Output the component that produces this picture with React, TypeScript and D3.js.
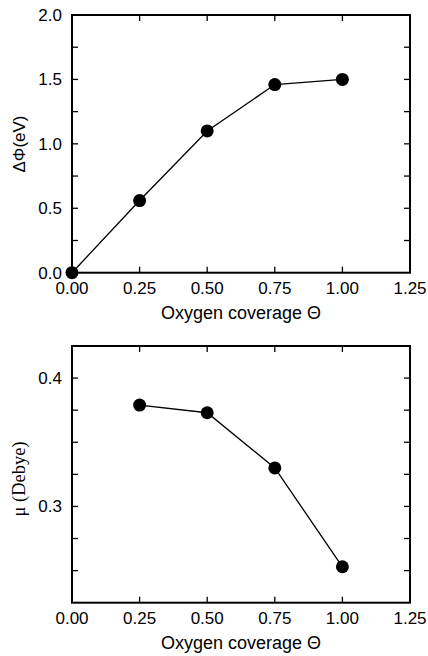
import React from "react";
import * as d3 from "d3";

const coverage = [0, 0.25, 0.5, 0.75, 1.0];
const deltaPhi = [0.0, 0.56, 1.1, 1.46, 1.5];
const muCoverage = [0.25, 0.5, 0.75, 1.0];
const muDebye = [0.379, 0.373, 0.33, 0.253];
const xTickLabels = ["0.00", "0.25", "0.50", "0.75", "1.00", "1.25"];
const xTickValues = [0, 0.25, 0.5, 0.75, 1.0, 1.25];
const topYLabels = ["0.0", "0.5", "1.0", "1.5", "2.0"];
const topYValues = [0, 0.5, 1.0, 1.5, 2.0];
const topYMinor = [0.25, 0.75, 1.25, 1.75];
const botYLabels = ["0.3", "0.4"];
const botYValues = [0.3, 0.4];
const botYMinor = [0.25, 0.275, 0.325, 0.35, 0.375];
const xTitle = "Oxygen coverage \u0398";

const L = 72;
const R = 410;
const sans = "'Liberation Sans', Arial, Helvetica, sans-serif";
const serif = "'Liberation Serif', 'Times New Roman', serif";

type PanelProps = {
  top: number;
  bottom: number;
  domain: [number, number];
  yMajor: number[];
  yLabels: string[];
  yMinor: number[];
  xs: number[];
  ys: number[];
  yTitle: string;
  yTitleFont: string;
  yTitleSize: number;
  yTitleY: number;
};

function Panel(p: PanelProps) {
  const x = d3.scaleLinear().domain([0, 1.25]).range([L, R]);
  const y = d3.scaleLinear().domain(p.domain).range([p.bottom, p.top]);
  const line = d3
    .line<number>()
    .x((_, i) => x(p.xs[i]))
    .y((d) => y(d));
  const tl = 6;
  const innerX = xTickValues.filter((v) => v > 0 && v < 1.25);
  const allY = [...p.yMajor, ...p.yMinor].filter(
    (v) => v > p.domain[0] && v < p.domain[1]
  );
  return (
    <g>
      {innerX.map((v) => (
        <g key={"xt" + v}>
          <line x1={x(v)} x2={x(v)} y1={p.bottom} y2={p.bottom - tl} stroke="#000" strokeWidth={1.3} />
          <line x1={x(v)} x2={x(v)} y1={p.top} y2={p.top + tl} stroke="#000" strokeWidth={1.3} />
        </g>
      ))}
      {allY.map((v) => (
        <g key={"yt" + v}>
          <line x1={L} x2={L + tl} y1={y(v)} y2={y(v)} stroke="#000" strokeWidth={1.3} />
          <line x1={R} x2={R - tl} y1={y(v)} y2={y(v)} stroke="#000" strokeWidth={1.3} />
        </g>
      ))}
      <rect x={L} y={p.top} width={R - L} height={p.bottom - p.top} fill="none" stroke="#000" strokeWidth={2} />
      <path d={line(p.ys) || ""} fill="none" stroke="#000" strokeWidth={1.3} />
      {p.ys.map((d, i) => (
        <circle key={"c" + i} cx={x(p.xs[i])} cy={y(d)} r={6.5} fill="#000" />
      ))}
      {xTickValues.map((v, i) => (
        <text key={"xl" + v} x={x(v)} y={p.bottom + 21} textAnchor="middle" fontFamily={sans} fontSize={17} fill="#000">
          {xTickLabels[i]}
        </text>
      ))}
      {p.yMajor.map((v, i) => (
        <text key={"yl" + v} x={62} y={y(v)} dy="0.35em" textAnchor="end" fontFamily={sans} fontSize={17} fill="#000">
          {p.yLabels[i]}
        </text>
      ))}
      <text x={(L + R) / 2} y={p.bottom + 46.5} textAnchor="middle" fontFamily={sans} fontSize={18} fill="#000">
        {xTitle}
      </text>
      <text
        transform={`translate(25, ${p.yTitleY}) rotate(-90)`}
        textAnchor="middle"
        fontFamily={p.yTitleFont}
        fontSize={p.yTitleSize}
        fill="#000"
      >
        {p.yTitle}
      </text>
    </g>
  );
}

export default function App() {
  return (
    <svg
      width={428}
      height={656}
      viewBox="0 0 428 656"
      style={{ position: "absolute", left: 0, top: 0, background: "#fff" }}
    >
      <rect width={428} height={656} fill="#fff" />
      <Panel
        top={15}
        bottom={272.7}
        domain={[0, 2]}
        yMajor={topYValues}
        yLabels={topYLabels}
        yMinor={topYMinor}
        xs={coverage}
        ys={deltaPhi}
        yTitle={"\u0394\u03A6(eV)"}
        yTitleFont={sans}
        yTitleSize={17}
        yTitleY={144}
      />
      <Panel
        top={346}
        bottom={602.7}
        domain={[0.225, 0.425]}
        yMajor={botYValues}
        yLabels={botYLabels}
        yMinor={botYMinor}
        xs={muCoverage}
        ys={muDebye}
        yTitle={"\u03BC (Debye)"}
        yTitleFont={serif}
        yTitleSize={18.5}
        yTitleY={479}
      />
    </svg>
  );
}
